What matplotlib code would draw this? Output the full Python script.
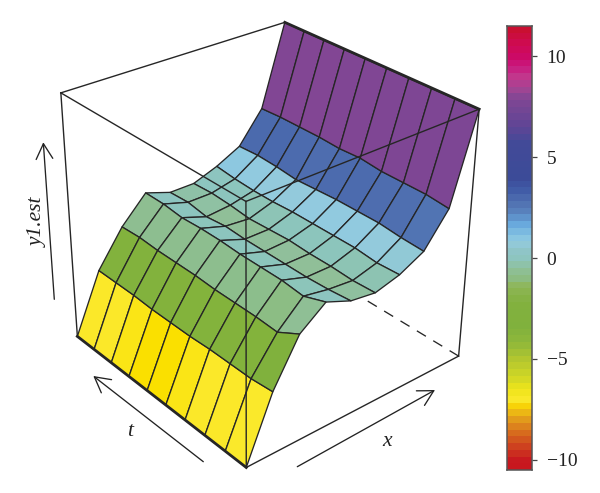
import numpy as np
import matplotlib
matplotlib.use('Agg')
from matplotlib import pyplot as plt
from matplotlib.colors import LinearSegmentedColormap, Normalize
from matplotlib.patches import FancyArrowPatch

plt.rcParams['font.family'] = ['Liberation Serif', 'DejaVu Serif']

W, H = 600, 493

#-------surface values, rows are x, columns are t (front to back)-------
x_vals = np.arange(10)
t_vals = np.arange(10)
z0 = [-10.5, -10.5, -10.5, -10.5, -10.5, -10.5, -10.5, -10.5, -10.5, -10.5]
z1 = [-4.9, -5.1, -5.1, -5.1, -5.2, -5.2, -5.2, -5.1, -5.1, -5.1]
z2 = [-1.0, -2.1, -2.0, -2.0, -2.0, -1.9, -1.9, -1.9, -1.8, -1.9]
z3 = [0.7, 0.0, 0.2, 0.2, 0.2, 0.3, 0.3, 0.2, 0.4, 0.4]
z4 = [-0.2, -0.4, -0.5, -0.5, -0.5, -0.5, -0.4, -0.6, -0.3, -0.4]
z5 = [-0.5, -0.6, -0.5, -0.5, -0.4, -0.5, -0.6, -0.4, -0.3, -0.4]
z6 = [0.1, 0.0, 0.2, 0.2, 0.2, 0.2, 0.1, 0.1, 0.2, 0.4]
z7 = [1.2, 1.3, 1.5, 1.5, 1.5, 1.4, 1.3, 1.5, 1.6, 1.5]
z8 = [4.0, 4.2, 4.2, 4.2, 4.4, 4.3, 4.4, 4.4, 4.4, 4.3]
z9 = [11.45, 11.45, 11.45, 11.45, 11.45, 11.45, 11.45, 11.45, 11.45, 11.5]
z_vals = np.array([z0, z1, z2, z3, z4, z5, z6, z7, z8, z9])

z_lo, z_hi = -10.5, 11.5
cbar_ticks = [-10, -5, 0, 5, 10]
cbar_labels = ['\u221210', '\u22125', '0', '5', '10']

# colour key, value and colour
key_vals = [-10.5, -10, -9.2, -8.5, -7.85, -7.4, -7.15, -7.1, -6.5, -5.9, -5, -4.2, -3.4, -2.2,
            -1.4, -0.9, -0.5, -0.15, 0.4, 0.8, 1.1, 1.75, 2.2, 2.8, 3.4, 4, 5.7, 6.5, 7.9, 8.4,
            9, 9.5, 10, 10.5, 11.5]
key_cols = ['#c8161d', '#c8191f', '#cf4a1f', '#d9761d', '#e5a71b', '#f6cf0a', '#fae100', '#fbe92c',
            '#eee41a', '#d0d726', '#b2c62f', '#8fb83a', '#80b13d', '#82b13e', '#8eb658', '#8cbe8c',
            '#90bf98', '#8cc5bc', '#8fc5c8', '#93cbdf', '#85c4e2', '#65a5dc', '#5b85bf', '#4f6fb0',
            '#3f5aa6', '#3c4b98', '#424a98', '#5f4595', '#804694', '#a24593', '#c2368c', '#c9187f',
            '#cc0a66', '#cf0a55', '#c8102a']

#-------colormap-------
span = z_hi - z_lo
cmap = LinearSegmentedColormap.from_list('key', [((v - z_lo) / span, c) for v, c in zip(key_vals, key_cols)], N=2048)
norm = Normalize(z_lo, z_hi)

# the lowest row reads lighter on the surface than its mean on the bar
cell_vals = (z_vals[:-1, :-1] + z_vals[1:, :-1] + z_vals[:-1, 1:] + z_vals[1:, 1:]) / 4
cell_vals[0] += 0.7
cell_cols = cmap(norm(cell_vals))

#-------camera fitted to the box corners in the image-------
box_px = {(0, 0, 0): (246.7, 468), (1, 0, 0): (458.3, 356), (0, 1, 0): (77.3, 336),
          (0, 0, 1): (245.7, 200), (1, 0, 1): (479.3, 110), (0, 1, 1): (60.7, 94), (1, 1, 1): (285, 21.7)}
A = []
for (a, b, c), (u, v) in box_px.items():
    A.append([a, b, c, 1, 0, 0, 0, 0, -u * a, -u * b, -u * c, -u])
    A.append([0, 0, 0, 0, a, b, c, 1, -v * a, -v * b, -v * c, -v])
cam = np.linalg.svd(np.array(A, float))[2][-1].reshape(3, 4)
cam = cam / cam[2, 3]

fig = plt.figure(figsize=(W / 100, H / 100), dpi=100)
left = (W - H) / 2
ax = fig.add_axes([left / W, 0, H / W, 1], projection='3d')
ax.set_axis_off()
ax.computed_zorder = False
vl = ax.viewLim.frozen()
kx = (vl.x1 - vl.x0) / H
ky = (vl.y1 - vl.y0) / H

to_unit = np.array([[1 / 9, 0, 0, 0], [0, 1 / 9, 0, 0], [0, 0, 1 / span, -z_lo / span], [0, 0, 0, 1.0]])
to_view = np.array([[kx, 0, vl.x0 - left * kx],
                    [0, -ky, vl.y0 + H * ky],
                    [0, 0, 1.0]])
pm = to_view @ cam @ to_unit
# depth row has to stay negative or the 3d lines get clipped away
proj = np.vstack([pm[0], pm[1], pm[2] - [0, 0, 0, 2.0], pm[2]])
ax.get_proj = lambda: proj

#-------surface-------
X, T = np.meshgrid(x_vals, t_vals, indexing='ij')
surf = ax.plot_surface(X, T, z_vals, rstride=1, cstride=1, facecolors=cell_cols, shade=False,
                       linewidth=0.95, antialiased=True, zorder=2)
surf.set_edgecolor('#262626')

#-------box-------
lc = '#262626'
def edge(a, b, c, **kw):
    ax.plot(a, b, c, color=lc, **kw)

# hidden edges go under the surface
edge([9, 9], [0, 9], [z_lo, z_lo], lw=0.95, ls=(0, (8, 6.5)), zorder=1)
edge([0, 9], [9, 9], [z_lo, z_lo], lw=0.95, ls=(0, (8, 6.5)), zorder=1)
edge([9, 9], [9, 9], [z_lo, z_hi], lw=0.95, ls=(0, (8, 6.5)), zorder=1)

edge([0, 0], [0, 0], [z_lo, z_hi], lw=1.0, zorder=3)
edge([0, 0], [0, 9], [z_hi, z_hi], lw=1.0, zorder=3)
edge([0, 9], [0, 0], [z_hi, z_hi], lw=1.0, zorder=3)
edge([0, 9], [0, 0], [z_lo, z_lo], lw=1.0, zorder=3)
edge([0, 0], [9, 9], [z_lo, z_hi], lw=1.0, zorder=3)
edge([9, 9], [0, 0], [z_lo, z_hi], lw=1.0, zorder=3)
edge([0, 9], [9, 9], [z_hi, z_hi], lw=1.0, zorder=3)
edge([0, 0], [0, 9], [z_lo, z_lo], lw=2.0, zorder=3)
edge([9, 9], [0, 9], [z_hi, z_hi], lw=2.0, zorder=3)

#-------axis arrows and labels-------
def fp(u, v):
    return (u / W, 1 - v / H)

arrow = dict(arrowstyle='->,head_length=0.55,head_width=0.3', lw=0.95, color='#222222',
             shrinkA=0, shrinkB=0, mutation_scale=20)
for tail, head in [((54.3, 299.3), (43.3, 142.3)),
                   ((203.3, 461.7), (93.3, 376)),
                   ((297.3, 466.7), (435, 390))]:
    fig.add_artist(FancyArrowPatch(fp(*tail), fp(*head), transform=fig.transFigure, **arrow))

fig.text(*fp(130, 432), 't', style='italic', fontsize=15.5, ha='center', va='center', color='#222222')
fig.text(*fp(387, 441), 'x', style='italic', fontsize=15.5, ha='center', va='center', color='#222222')
fig.text(*fp(38, 222), 'y1.est', style='italic', fontsize=15.5, rotation=90, ha='center', va='center', color='#222222')

#-------colour bar-------
cax = fig.add_axes([506.7 / W, 1 - 470 / H, 25 / W, 444 / H])
levels = np.linspace(z_lo, z_hi, 67)
cax.pcolormesh([0, 1], levels, ((levels[:-1] + levels[1:]) / 2)[:, None], cmap=cmap, norm=norm)
cax.set_xticks([])
cax.yaxis.tick_right()
cax.set_yticks(cbar_ticks)
cax.set_yticklabels(cbar_labels, fontsize=14, color='#222222')
cax.tick_params(axis='y', length=3.8, width=0.9, color='#444444', pad=7)
for s in cax.spines.values():
    s.set_color('#555555')
    s.set_linewidth(1.1)

fig.savefig('out.png', dpi=100)
